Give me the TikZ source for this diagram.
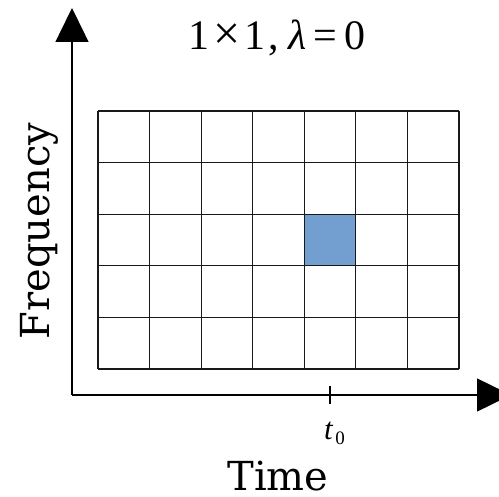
\documentclass[tikz,border=0pt]{standalone}
\usepackage{fontspec}
\setmainfont{DejaVu Serif}
\newfontfamily\mathlike{Liberation Serif}
\usetikzlibrary{arrows.meta}
\definecolor{cellblue}{HTML}{729FCF}
\tikzset{
  gridline/.style={line width=1.1pt, draw=black!90},
  axisline/.style={line width=1.5pt, -{Triangle[length=34pt,width=33pt]}},
  lbl/.style={font=\fontsize{40}{40}\selectfont, inner sep=0pt}
}
\begin{document}
\begin{tikzpicture}[x=1pt,y=-1pt]
\useasboundingbox (0,0) rectangle (499,497);
\clip (0,0) rectangle (499,497);
\coordinate (origin) at (72,395);
\coordinate (ytop) at (72,8);
\coordinate (xend) at (511,395);
% blue cell
\fill[cellblue] (304.3,214.2) rectangle (355.9,265.8);
% grid
\foreach \i in {0,...,7} \draw[gridline] ({98+\i*51.57},111) -- ({98+\i*51.57},369);
\foreach \j in {0,...,5} \draw[gridline] (98,{111+\j*51.6}) -- (459,{111+\j*51.6});
% axes
\draw[axisline] (origin) -- (ytop);
\draw[axisline] (origin) -- (xend);
% tick
\coordinate (tick) at (330,395);
\draw[line width=1.2pt] (330,386) -- (330,404);
% labels
\node[font=\fontsize{42}{42}\selectfont\mathlike, inner sep=0pt, anchor=base] (title) at (277,50) {1\hspace{4pt}{\fontsize{48}{48}\selectfont ×}\hspace{4pt}1\hspace{3pt},\hspace{9pt}\textit{λ}\hspace{7pt}=\hspace{7pt}0};
\node[lbl, anchor=base, rotate=90] (freq) at (49,231) {Frequency};
\node[lbl, anchor=base] (time) at (278,491) {Time};
\node[font=\fontsize{31}{31}\selectfont\mathlike, inner sep=0pt, anchor=base west] (t0) at (324,440) {\textit{t}\hspace{2pt}\raisebox{-5pt}{\fontsize{19}{19}\selectfont 0}};
\end{tikzpicture}
\end{document}
